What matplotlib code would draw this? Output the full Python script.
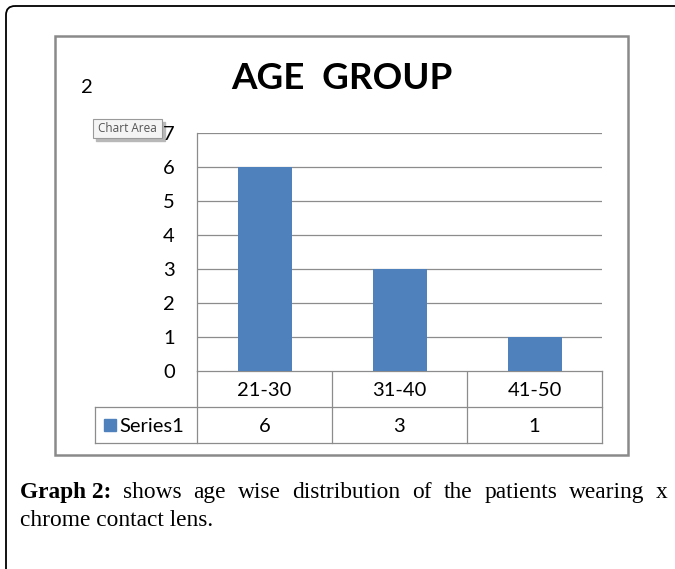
import matplotlib.pyplot as plt
from matplotlib.patches import FancyBboxPatch, Rectangle

# data
categories = ['21-30', '31-40', '41-50']
values = [6, 3, 1]
series_name = 'Series1'
title = 'AGE  GROUP'
caption_bold = 'Graph 2:'
caption_line1 = 'shows age wise distribution of the patients wearing x'
caption_line2 = 'chrome contact lens.'

W, H = 675, 569
bar_color = '#4f81bd'
grid_color = '#8c8c8c'
chart_font = 'Lato'
serif_font = 'Liberation Serif'

fig = plt.figure(figsize=(W / 100, H / 100), dpi=100)

# overlay in pixel coordinates (y down)
ov = fig.add_axes([0, 0, 1, 1])
ov.set_xlim(0, W)
ov.set_ylim(H, 0)
ov.axis('off')

# outer page frame, rounded corner at top-left
ov.add_patch(FancyBboxPatch((6, 6), 720, 620, boxstyle='round,pad=0,rounding_size=9',
                            fill=False, ec='black', lw=1.3, clip_on=True))
# chart area border
ov.add_patch(Rectangle((55, 36), 573, 419, fill=False, ec='#8a8a8a', lw=1.8))

# plot area
left, right, top, bottom = 197, 602, 133, 371
ax = fig.add_axes([left / W, 1 - bottom / H, (right - left) / W, (bottom - top) / H])
x = list(range(len(categories)))
ax.bar(x, values, width=0.4, color=bar_color, zorder=3)
ax.set_xlim(-0.5, len(categories) - 0.5)
ax.set_ylim(0, 7)
ax.set_yticks(range(0, 8))
ax.set_yticklabels([str(v) for v in range(0, 8)], fontsize=14.5, family=chart_font)
ax.tick_params(axis='y', length=0, pad=16)
ax.set_xticks([])
ax.yaxis.grid(True, color=grid_color, lw=0.9)
ax.set_axisbelow(True)
for s in ['top', 'right', 'bottom']:
    ax.spines[s].set_visible(False)
ax.spines['left'].set_color(grid_color)
ax.spines['left'].set_linewidth(0.9)

# data table under the plot
row_h = 36
col_w = (right - left) / len(categories)
lab_left = 95
lc = grid_color
lw = 0.9
ov.plot([left, right], [bottom, bottom], color=lc, lw=lw)
ov.plot([lab_left, right], [bottom + row_h, bottom + row_h], color=lc, lw=lw)
ov.plot([lab_left, right], [bottom + 2 * row_h, bottom + 2 * row_h], color=lc, lw=lw)
ov.plot([lab_left, lab_left], [bottom + row_h, bottom + 2 * row_h], color=lc, lw=lw)
ov.plot([left, left], [bottom, bottom + 2 * row_h], color=lc, lw=lw)
for i in range(len(categories)):
    xr = left + (i + 1) * col_w
    ov.plot([xr, xr], [bottom, bottom + 2 * row_h], color=lc, lw=lw)
    xc = left + (i + 0.5) * col_w
    ov.text(xc, bottom + row_h / 2 + 1, categories[i], ha='center', va='center',
            fontsize=14.5, family=chart_font)
    ov.text(xc, bottom + 1.5 * row_h + 1, str(values[i]), ha='center', va='center',
            fontsize=14.5, family=chart_font)
ov.add_patch(Rectangle((104, bottom + 1.5 * row_h - 6), 12, 12, color=bar_color))
ov.text(119, bottom + 1.5 * row_h + 1, series_name, ha='left', va='center',
        fontsize=14.5, family=chart_font)

# title and stray label
ov.text(342, 78, title, ha='center', va='center', fontsize=26.5, fontweight='bold',
        family=chart_font)
ov.text(87, 87, '2', ha='center', va='center', fontsize=14.5, family=chart_font)

# "Chart Area" tooltip
ov.add_patch(Rectangle((96, 122), 69, 19, color='#b8b8b8', zorder=4))
ov.add_patch(Rectangle((93, 119), 69, 19, fc='#f4f4f4', ec='#9a9a9a', lw=0.8, zorder=5))
ov.text(127.5, 128.5, 'Chart Area', ha='center', va='center', fontsize=8.5,
        family='Open Sans', color='#555555', zorder=6)

# caption, first line justified
fig.canvas.draw()
r = fig.canvas.get_renderer()
x0, x1, y1 = 20, 668, 492
words = [(caption_bold, 'bold')] + [(w, 'normal') for w in caption_line1.split()]
arts = []
for w, wt in words:
    t = ov.text(0, y1, w, ha='left', va='center', fontsize=16.8, fontweight=wt,
                family=serif_font)
    arts.append(t)
widths = [a.get_window_extent(r).width for a in arts]
gap = (x1 - x0 - sum(widths)) / (len(arts) - 1)
pos = x0
for a, wd in zip(arts, widths):
    a.set_x(pos)
    pos += wd + gap
ov.text(x0, 521, caption_line2, ha='left', va='center', fontsize=16.8, family=serif_font)

fig.savefig('out.png', dpi=100)
